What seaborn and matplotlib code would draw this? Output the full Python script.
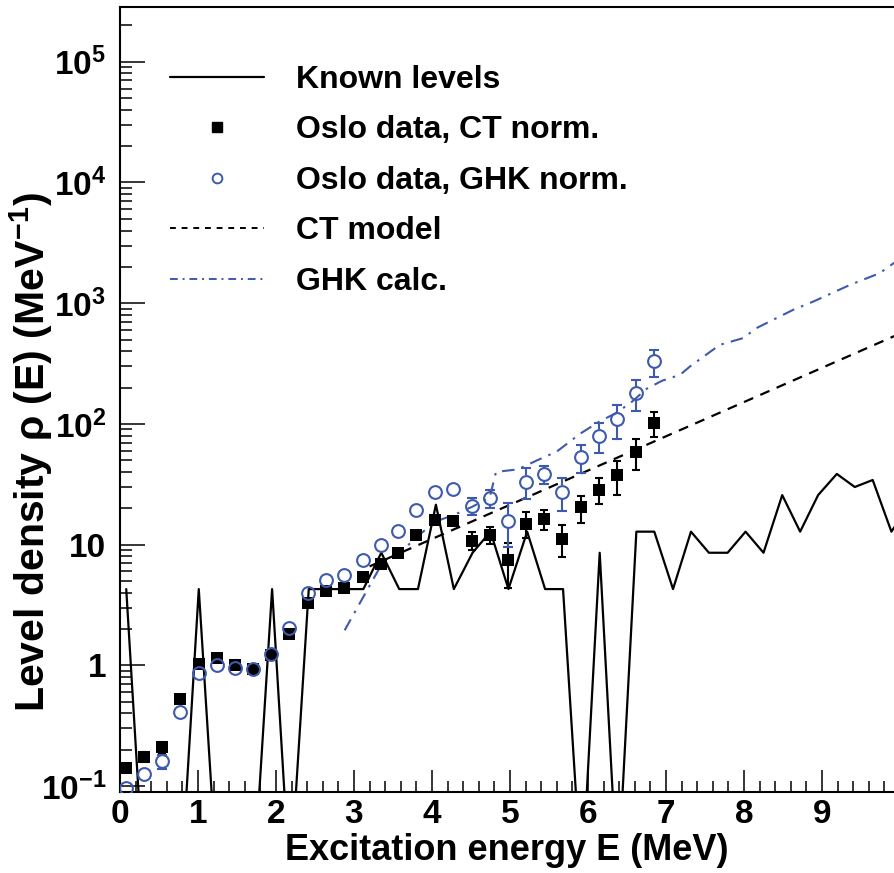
import numpy as np
import pandas as pd
import seaborn as sns
import matplotlib
matplotlib.use("Agg")
import matplotlib.pyplot as plt
from matplotlib.lines import Line2D
from matplotlib.ticker import FixedLocator, FixedFormatter, MultipleLocator, LogLocator, NullFormatter

# ---------------- data ----------------
level_energy = [0.08, 0.31, 0.55, 0.78, 1.01, 1.25, 1.48, 1.71, 1.95, 2.18,
                2.42, 2.65, 2.88, 3.12, 3.35, 3.58, 3.82, 4.05, 4.28, 4.52,
                4.75, 4.98, 5.22, 5.45, 5.68, 5.92, 6.15, 6.38, 6.62, 6.85,
                7.09, 7.32, 7.55, 7.79, 8.02, 8.25, 8.49, 8.72, 8.95, 9.19,
                9.42, 9.65, 9.89, 10.12]
known_levels = [4.28, 0, 0, 0, 4.28, 0, 0, 0, 4.28, 0,
                4.28, 4.28, 4.28, 4.28, 8.56, 4.28, 4.28, 21.4, 4.28, 8.56,
                12.8, 4.28, 12.8, 4.28, 4.28, 0, 8.56, 0, 12.8, 12.8,
                4.28, 12.8, 8.56, 8.56, 12.8, 8.56, 25.7, 12.8, 25.7, 38.5,
                30.0, 34.3, 12.8, 21.4]

data_energy = [0.08, 0.31, 0.54, 0.77, 1.01, 1.24, 1.47, 1.71, 1.94, 2.17,
               2.41, 2.64, 2.87, 3.11, 3.34, 3.57, 3.80, 4.04, 4.27, 4.51,
               4.74, 4.97, 5.21, 5.44, 5.67, 5.91, 6.14, 6.37, 6.61, 6.84]
ct_norm = [0.142, 0.175, 0.21, 0.525, 1.03, 1.16, 1.0, 0.94, 1.21, 1.81,
           3.31, 4.14, 4.36, 5.44, 6.85, 8.5, 12.0, 16.0, 15.7, 10.8,
           12.1, 7.4, 14.9, 16.3, 11.2, 20.3, 28.6, 37.4, 58.0, 101.6]
ct_err = [0, 0.017, 0.023, 0, 0, 0, 0, 0, 0, 0,
          0, 0, 0, 0, 0, 0, 0, 0, 0, 1.8,
          2.0, 3.0, 3.6, 3.1, 3.3, 5.1, 6.9, 11.5, 16.8, 24.0]
ghk_norm = [0.096, 0.126, 0.16, 0.414, 0.86, 1.01, 0.95, 0.93, 1.24, 2.03,
            3.97, 5.11, 5.62, 7.48, 9.84, 13.0, 19.4, 27.5, 28.8, 21.0,
            24.3, 15.8, 33.3, 38.4, 27.5, 53.1, 79.6, 109.6, 180.0, 329.0]
ghk_err = [0, 0, 0.021, 0, 0, 0, 0, 0, 0, 0,
           0, 0, 0, 0, 0, 0, 0, 0, 0, 3.3,
           4.2, 6.2, 9.6, 6.6, 8.4, 14.0, 21.7, 34.0, 52.0, 82.0]

ct_model_energy = [3.2, 10.0]
ct_model = [6.6, 560.0]

ghk_calc_energy = [2.88, 3.15, 3.35, 3.57, 3.80, 4.04, 4.27, 4.51, 4.74, 4.82,
                   5.10, 5.35, 5.60, 5.90, 6.15, 6.35, 6.55, 6.75, 6.95, 7.18,
                   7.31, 7.69, 7.99, 8.16, 8.63, 8.89, 9.36, 9.74, 9.92, 10.0]
ghk_calc = [1.95, 4.0, 6.8, 8.3, 11.5, 15.5, 17.5, 20.5, 24.5, 40.0,
            42.0, 50.0, 59.0, 83.0, 105.0, 122.0, 150.0, 195.0, 228.0, 255.0,
            300.0, 452.0, 514.0, 622.0, 881.0, 1033.0, 1419.0, 1774.0, 2148.0, 2300.0]

legend_labels = ["Known levels", "Oslo data, CT norm.", "Oslo data, GHK norm.",
                 "CT model", "GHK calc."]
x_ticks = [0, 1, 2, 3, 4, 5, 6, 7, 8, 9]
y_ticks = [0.1, 1, 10, 100, 1000, 10000, 100000]
y_ticklabels = [r"$\mathbf{10^{-1}}$", "1", "10", r"$\mathbf{10^{2}}$",
                r"$\mathbf{10^{3}}$", r"$\mathbf{10^{4}}$", r"$\mathbf{10^{5}}$"]
x_title = "Excitation energy E (MeV)"
y_title = r"Level density ρ (E) (MeV$^{\mathbf{-1}}$)"

# ---------------- style ----------------
sns.set_style("ticks")
plt.rcParams["font.family"] = ["Liberation Sans", "DejaVu Sans"]
plt.rcParams["font.weight"] = "bold"
plt.rcParams["mathtext.fontset"] = "custom"
plt.rcParams["mathtext.rm"] = "Liberation Sans:bold"
plt.rcParams["mathtext.bf"] = "Liberation Sans:bold"
plt.rcParams["mathtext.it"] = "Liberation Sans:bold:italic"
for k in ["text.color", "axes.labelcolor", "xtick.color", "ytick.color", "axes.edgecolor"]:
    plt.rcParams[k] = "black"

BLUE = "#3d5aad"
W, H = 894, 873
fig = plt.figure(figsize=(W / 100, H / 100), dpi=100)
ax = fig.add_axes([120 / W, 1 - 792 / H, 774 / W, 785 / H])
ax.set_yscale("log")
px_per_dec = 120.7
ax.set_xlim(0, 774 / 78.0)
ax.set_ylim(10 ** (-1 - 6 / px_per_dec), 10 ** (-1 - 6 / px_per_dec + 785 / px_per_dec))

# known levels (zero bins drawn far below the axis, as ROOT does)
kl = np.array(known_levels, dtype=float)
kl_plot = np.where(kl > 0, kl, 0.015)
df_kl = pd.DataFrame({"E": level_energy, "rho": kl_plot})
sns.lineplot(data=df_kl, x="E", y="rho", estimator=None, sort=False,
             color="black", lw=1.6, ax=ax)

# CT model
df_ct = pd.DataFrame({"E": ct_model_energy, "rho": ct_model})
sns.lineplot(data=df_ct, x="E", y="rho", estimator=None, sort=False,
             color="black", lw=1.6, linestyle=(0, (4.5, 3.5)), ax=ax)

# GHK calc
df_gc = pd.DataFrame({"E": ghk_calc_energy, "rho": ghk_calc})
sns.lineplot(data=df_gc, x="E", y="rho", estimator=None, sort=False,
             color=BLUE, lw=1.5, linestyle=(0, (6, 3.5, 1.2, 3.5)), ax=ax)

# Oslo data CT norm (filled squares)
x = np.array(data_energy)
c = np.array(ct_norm)
ce = np.array(ct_err)
ax.errorbar(x, c, yerr=ce, fmt="none", ecolor="black", elinewidth=1.5,
            capsize=3.2, capthick=1.5, zorder=3)
sns.scatterplot(x=x, y=c, marker="s", color="black", s=85, edgecolor="black",
                linewidth=0, ax=ax, zorder=4)

# Oslo data GHK norm (open circles); bars stop at the circle edge
g = np.array(ghk_norm)
ge = np.array(ghk_err)
r = 10 ** (6.5 / px_per_dec)
m = ge > 0
ax.vlines(x[m], g[m] * r, np.maximum(g[m] + ge[m], g[m] * r), color=BLUE, lw=1.5, zorder=5)
ax.vlines(x[m], np.minimum(g[m] - ge[m], g[m] / r), g[m] / r, color=BLUE, lw=1.5, zorder=5)
ax.plot(x[m], g[m] + ge[m], ls="none", marker="_", ms=6.5, mew=1.5, color=BLUE, zorder=5)
ax.plot(x[m], g[m] - ge[m], ls="none", marker="_", ms=6.5, mew=1.5, color=BLUE, zorder=5)
ax.plot(x, g, ls="none", marker="o", ms=9.2, mfc="none", mec=BLUE, mew=1.5, zorder=6)

# ---------------- axes ----------------
ax.spines["right"].set_visible(False)
for s in ["left", "bottom", "top"]:
    ax.spines[s].set_linewidth(1.5)
    ax.spines[s].set_color("black")

ax.xaxis.set_major_locator(FixedLocator(x_ticks))
ax.xaxis.set_major_formatter(FixedFormatter([str(t) for t in x_ticks]))
ax.xaxis.set_minor_locator(MultipleLocator(0.2))
ax.yaxis.set_major_locator(FixedLocator(y_ticks))
ax.yaxis.set_major_formatter(FixedFormatter(y_ticklabels))
ax.yaxis.set_minor_locator(LogLocator(base=10, subs=[2, 3, 4, 5, 6, 7, 8, 9], numticks=20))
ax.yaxis.set_minor_formatter(NullFormatter())

ax.tick_params(axis="x", which="major", direction="in", length=16, width=1.1,
               labelsize=24, pad=5, top=False, colors="black")
ax.tick_params(axis="x", which="minor", direction="in", length=8, width=1.1, top=False)
ax.tick_params(axis="y", which="major", direction="in", length=18, width=1.1,
               labelsize=24, pad=10, right=False, colors="black")
ax.tick_params(axis="y", which="minor", direction="in", length=8.6, width=1.1, right=False)
for lab in ax.get_xticklabels() + ax.get_yticklabels():
    lab.set_fontweight("bold")

ax.set_xlabel(x_title, fontsize=26, fontweight="bold")
ax.xaxis.set_label_coords(0.5, -0.052)
ax.xaxis.label.set_va("top")
ax.set_ylabel("")
fig.text(31 / W, 1 - 452 / H, y_title, rotation=90, ha="center", va="center",
         fontsize=29.5, fontweight="bold")

# ---------------- legend ----------------
handles = [
    Line2D([], [], color="black", lw=1.6),
    Line2D([], [], ls="none", marker="s", ms=7, color="black"),
    Line2D([], [], ls="none", marker="o", ms=7, mfc="none", mec=BLUE, mew=1.4),
    Line2D([], [], color="black", lw=1.4, ls=(0, (3, 3))),
    Line2D([], [], color=BLUE, lw=1.4, ls=(0, (4, 2.5, 1, 2.5))),
]
leg = ax.legend(handles, legend_labels, loc="upper left",
                bbox_to_anchor=(170 / W, 1 - 65 / H), bbox_transform=fig.transFigure,
                frameon=False, fontsize=23, handlelength=2.95, handletextpad=1.0,
                labelspacing=0.64, borderpad=0, borderaxespad=0)
for t in leg.get_texts():
    t.set_fontweight("bold")
    t.set_color("black")

fig.savefig("out.png", dpi=100)
